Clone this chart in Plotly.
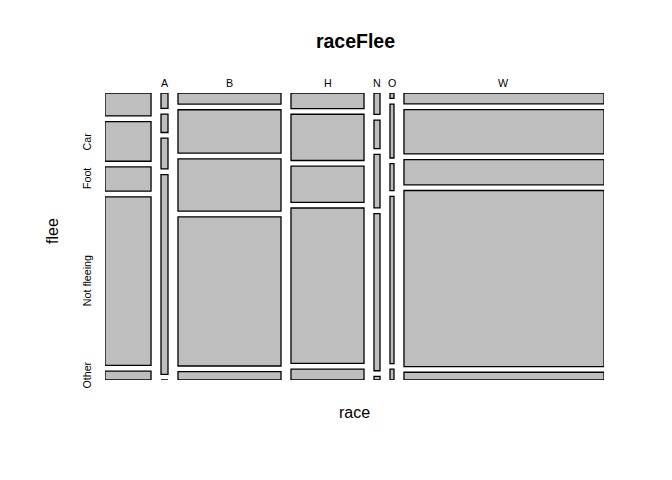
import plotly.graph_objects as go

races = ["", "A", "B", "H", "N", "O", "W"]
flee_levels = ["", "Car", "Foot", "Not fleeing", "Other"]
cnt_blank = [49, 85, 52, 361, 19]
cnt_A = [5, 6, 10, 65, 0]
cnt_B = [53, 208, 251, 715, 40]
cnt_H = [53, 157, 123, 528, 37]
cnt_N = [6, 8, 15, 44, 1]
cnt_O = [1, 10, 5, 31, 2]
cnt_W = [102, 412, 235, 1639, 72]
counts = [cnt_blank, cnt_A, cnt_B, cnt_H, cnt_N, cnt_O, cnt_W]

title_text = "raceFlee"
x_title = "race"
y_title = "flee"

# ---- mosaic geometry (fractions of the plot area) ----
X_OFF = 0.12
Y_OFF = 0.079
N = sum(sum(c) for c in counts)
x_white = X_OFF / (len(races) - 1)
y_white = Y_OFF / (len(flee_levels) - 1)

bx, bw, bbase, bh = [], [], [], []
zero_x, zero_y = [], []
col_centers = []
first_col_rows = []
xl = 0.0
for i, r in enumerate(races):
    tot = sum(counts[i])
    w = (1 - X_OFF) * tot / N
    col_centers.append(xl + w / 2)
    ytop = 1.0
    for j, c in enumerate(counts[i]):
        h = (1 - Y_OFF) * c / tot
        if c == 0:
            zero_x += [xl, xl + w, None]
            zero_y += [ytop, ytop, None]
        else:
            bx.append(xl + w / 2)
            bw.append(w)
            bbase.append(ytop - h)
            bh.append(h)
        if i == 0:
            first_col_rows.append(ytop - h / 2)
        ytop -= h + y_white
    xl += w + x_white

FONT = "Liberation Sans, Arial, sans-serif"

fig = go.Figure()
fig.add_trace(go.Bar(
    x=bx, y=bh, base=bbase, width=bw,
    marker=dict(color="#BEBEBE", line=dict(color="black", width=1.3)),
    hoverinfo="skip", showlegend=False,
))
fig.add_trace(go.Scatter(
    x=zero_x, y=zero_y, mode="lines",
    line=dict(color="black", width=1.5),
    hoverinfo="skip", showlegend=False,
))

ann = []
for lab, cx in zip(races, col_centers):
    if lab:
        ann.append(dict(x=cx, y=1, xref="x", yref="y", text=lab, showarrow=False,
                        yshift=10, yanchor="middle", xanchor="center",
                        font=dict(size=10.7, color="black", family=FONT)))
for lab, cy in zip(flee_levels, first_col_rows):
    if lab:
        ann.append(dict(x=0, y=cy, xref="x", yref="y", text=lab, showarrow=False,
                        xshift=-18, textangle=-90, xanchor="center", yanchor="middle",
                        font=dict(size=10.7, color="black", family=FONT)))

W_PX, H_PX = 672, 480
L, R, T, B = 105, 68, 93, 100
pw, ph = W_PX - L - R, H_PX - T - B

def px2paper(px, py):
    return (px - L) / pw, (H_PX - B - py) / ph

ax, ay = px2paper(354.5, 412)
ann.append(dict(x=ax, y=ay, xref="paper", yref="paper", text=x_title, showarrow=False,
                xanchor="center", yanchor="middle",
                font=dict(size=16, color="black", family=FONT)))
fx, fy = px2paper(52, 231)
ann.append(dict(x=fx, y=fy, xref="paper", yref="paper", text=y_title, showarrow=False,
                textangle=-90, xanchor="center", yanchor="middle",
                font=dict(size=16, color="black", family=FONT)))

fig.update_layout(
    width=W_PX, height=H_PX,
    margin=dict(l=L, r=R, t=T, b=B, pad=0),
    paper_bgcolor="white", plot_bgcolor="white",
    barmode="overlay",
    title=dict(text="<b>" + title_text + "</b>", x=355.5 / W_PX, y=1 - 41.5 / H_PX,
               xanchor="center", yanchor="middle",
               font=dict(size=19.5, color="black", family=FONT)),
    xaxis=dict(range=[0, 1], visible=False, fixedrange=True),
    yaxis=dict(range=[0, 1], visible=False, fixedrange=True),
    annotations=ann,
    showlegend=False,
)

fig.write_html("out.html", config={"displayModeBar": False})
